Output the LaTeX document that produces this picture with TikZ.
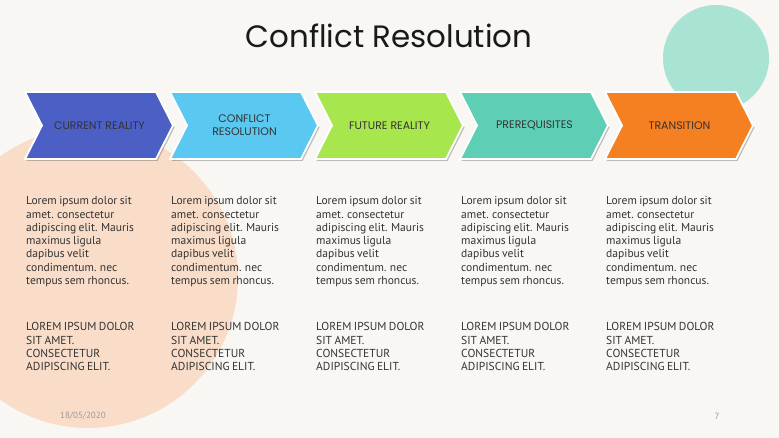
\documentclass[tikz,border=0pt]{standalone}
\usepackage{fontspec}
\setmainfont{PT Sans}
\newfontfamily\titlefont{Poppins}
\usetikzlibrary{shadows}
\definecolor{bgc}{HTML}{F8F7F4}
\definecolor{peach}{HTML}{F9DDC9}
\definecolor{mint}{HTML}{A8E3D3}
\definecolor{cblue}{HTML}{4B5FC5}
\definecolor{clight}{HTML}{5BC8F1}
\definecolor{cgreen}{HTML}{A8E64E}
\definecolor{cteal}{HTML}{5ECFB4}
\definecolor{corange}{HTML}{F58022}
\definecolor{txt}{HTML}{333333}
\newcommand\mybodyfont{\fontsize{11.6}{13.3}\selectfont\spaceskip=2.4bp plus 1bp minus 0.5bp\relax}
\tikzset{
  chevron/.style={draw=white, line width=1.8bp, line join=miter,
    drop shadow={shadow xshift=1.5bp, shadow yshift=-2bp, opacity=.35, fill=black!70}},
  chevlabel/.style={font=\titlefont\fontsize{11}{13}\selectfont, text=txt, align=center, inner sep=0pt},
  body/.style={font=\mybodyfont, text=txt, align=left, anchor=north west, inner sep=0pt},
  foot/.style={font=\fontsize{9}{10}\selectfont, text=black!40, inner sep=0pt}
}
\newcommand\mkchev[4]{%
  \path[chevron, fill=#2] (#1,92) -- ++(131,0) -- ++(17,33.5) -- ++(-17,33.5) -- ++(-131,0) -- ++(17,-33.5) -- cycle;
  \node[chevlabel] (#3) at (#1+74.5,125.5) {#4};}
\begin{document}
\begin{tikzpicture}[x=1bp,y=-1bp]
\useasboundingbox (0,0) rectangle (779,438);
\fill[bgc] (0,0) rectangle (779,438);
\fill[peach] (88,278) circle[radius=150bp];
\fill[mint] (716,58) circle[radius=53bp];
\node[font=\titlefont\fontsize{31}{36}\selectfont, text=black!90, inner sep=0pt] (title) at (389,36) {Conflict Resolution};
\mkchev{25}{cblue}{c1}{CURRENT REALITY}
\mkchev{170}{clight}{c2}{CONFLICT\\RESOLUTION}
\mkchev{315}{cgreen}{c3}{FUTURE REALITY}
\mkchev{460}{cteal}{c4}{PREREQUISITES}
\mkchev{605}{corange}{c5}{TRANSITION}
\foreach \x [count=\i] in {26,171,316,461,606}{
  \node[body] (p\i) at (\x,196.5) {Lorem ipsum dolor sit\\amet. consectetur\\adipiscing elit. Mauris\\maximus ligula\\dapibus velit\\condimentum. nec\\tempus sem rhoncus.};
  \node[body] (q\i) at (\x,322.5) {LOREM IPSUM DOLOR\\SIT AMET.\\CONSECTETUR\\ADIPISCING ELIT.};
}
\node[foot, anchor=west] (date) at (60,416) {18/05/2020};
\node[foot] (page) at (717,416) {7};
\end{tikzpicture}
\end{document}
